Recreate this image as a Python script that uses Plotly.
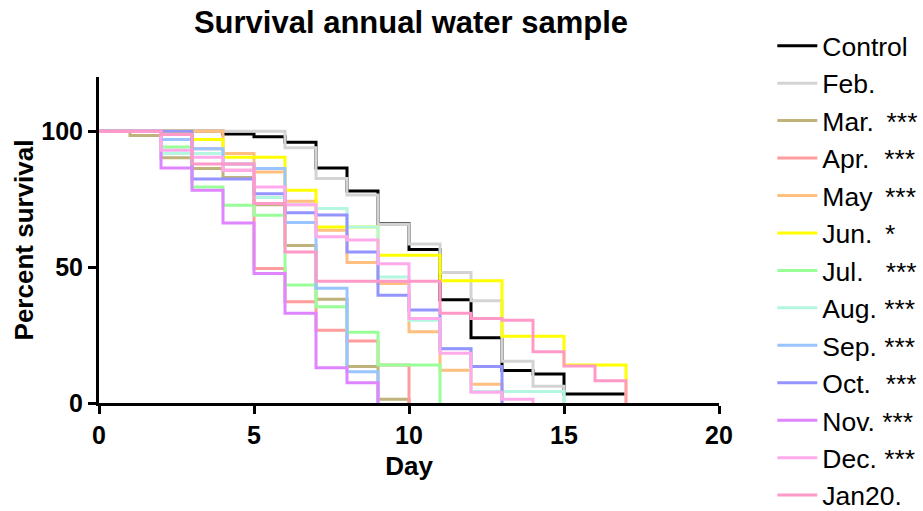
import plotly.graph_objects as go

# ---- data (percent survival at day 0,1,2,... ; last value = end of curve) ----
NB = "\u00a0"
TH = "\u2009"
names = ["Control", "Feb.", "Mar." + NB + TH + "***", "Apr." + NB * 2 + "***", "May" + NB + TH + "***",
         "Jun." + NB + TH + "*", "Jul." + NB * 3 + "***", "Aug." + NB + "***", "Sep." + NB + "***",
         "Oct." + NB * 2 + "***", "Nov." + NB + "***", "Dec." + NB + "***", "Jan20."]

control = [100, 100, 100, 100, 99, 98, 96, 86.5, 78, 66, 56.5, 38, 24, 12, 10.7, 3.3, 3.3, 3.3]
feb = [100, 100, 100, 100, 100, 100, 94, 82.6, 76.6, 65.8, 58.5, 48, 37.6, 15.4, 6.2, 0]
mar = [100, 98.5, 90.3, 86.3, 83, 73, 58, 38.2, 13.4, 1.4, 0]
apr = [100, 100, 100, 93.6, 85.7, 49.5, 37.3, 26.8, 22.8, 14, 0]
may = [100, 100, 100, 100, 91.8, 85, 74.3, 63.6, 51.7, 44, 26.2, 12.1, 6.9, 0]
jun = [100, 100, 100, 97, 90.5, 90.5, 78.3, 64.8, 64.8, 54.4, 54.4, 45, 45, 24.6, 24.6, 14, 14, 0]
jul = [100, 100, 94.2, 79.5, 72.8, 69.1, 43.4, 35.4, 26, 14, 14, 0]
aug = [100, 100, 91.8, 91.8, 88, 75.6, 73, 71.6, 64.8, 46.4, 30.5, 20.1, 4.2, 4.2, 4.2, 0]
sep = [100, 100, 97, 93.6, 88, 86.3, 66.4, 42.2, 11.5, 0]
oct_ = [100, 100, 100, 82.5, 82.5, 77, 70, 69.2, 55.6, 39.7, 34.2, 20, 13.4, 0]
nov = [100, 100, 86.5, 78.3, 66.3, 47.7, 33, 13, 7.5, 0]
dec = [100, 100, 93, 90.5, 85.7, 79.5, 73, 61.2, 60, 51.3, 31.1, 18.3, 4, 1.4, 0]
jan20 = [100, 100, 98.8, 88, 88, 73.4, 55.6, 44.8, 44.8, 44.8, 44.8, 33, 31.1, 30.5, 18.9, 13.6, 8.2, 0]

series = [control, feb, mar, apr, may, jun, jul, aug, sep, oct_, nov, dec, jan20]
colors = ["#000000", "#d3d3d3", "#bfb27a", "#ff9c9c", "#ffbf80", "#ffff00", "#99ff99",
          "#b3f7e0", "#99c4ff", "#9494ff", "#df85ff", "#ffaaea", "#ff99c8"]

x_ticks = [0, 5, 10, 15, 20]
y_ticks = [0, 50, 100]

FONT = "Liberation Sans, Arial, sans-serif"

fig = go.Figure()
for name, vals, col in zip(names, series, colors):
    fig.add_trace(go.Scatter(
        x=list(range(len(vals))), y=vals, mode="lines", name=name,
        line=dict(color=col, width=3, shape="hv"),
    ))

fig.update_layout(
    width=923, height=511,
    paper_bgcolor="white", plot_bgcolor="white",
    margin=dict(l=99, r=204, t=77, b=108, autoexpand=False),
    font=dict(family=FONT, color="black"),
    title=dict(text="Survival annual water sample", x=411 / 923, xanchor="center",
               xref="container", y=1 - 22 / 511, yanchor="middle", yref="container",
               font=dict(size=31, family=FONT, color="black", weight="bold")),
    legend=dict(x=1.086, xanchor="left", y=0.957, yanchor="top", yref="container",
                font=dict(size=26.5, family=FONT, color="black"),
                itemwidth=40, bgcolor="rgba(0,0,0,0)", maxheight=700),
    showlegend=True,
)
fig.update_xaxes(
    range=[0, 20], tickvals=x_ticks, ticktext=[str(v) for v in x_ticks],
    showgrid=False, zeroline=False, showline=True, linecolor="black", linewidth=3,
    ticks="outside", ticklen=8, tickwidth=3, tickcolor="black",
    tickfont=dict(size=25, family=FONT, color="black", weight="bold"),
    title=dict(text="Day", font=dict(size=26, family=FONT, color="black", weight="bold"), standoff=9),
)
fig.update_yaxes(
    range=[0, 120], tickvals=y_ticks, ticktext=[str(v) for v in y_ticks],
    showgrid=False, zeroline=False, showline=True, linecolor="black", linewidth=3,
    ticks="outside", ticklen=8, tickwidth=3, tickcolor="black",
    tickfont=dict(size=25, family=FONT, color="black", weight="bold"),
    title=dict(text="Percent survival", font=dict(size=26, family=FONT, color="black", weight="bold"), standoff=1),
)

fig.write_html("out.html")
